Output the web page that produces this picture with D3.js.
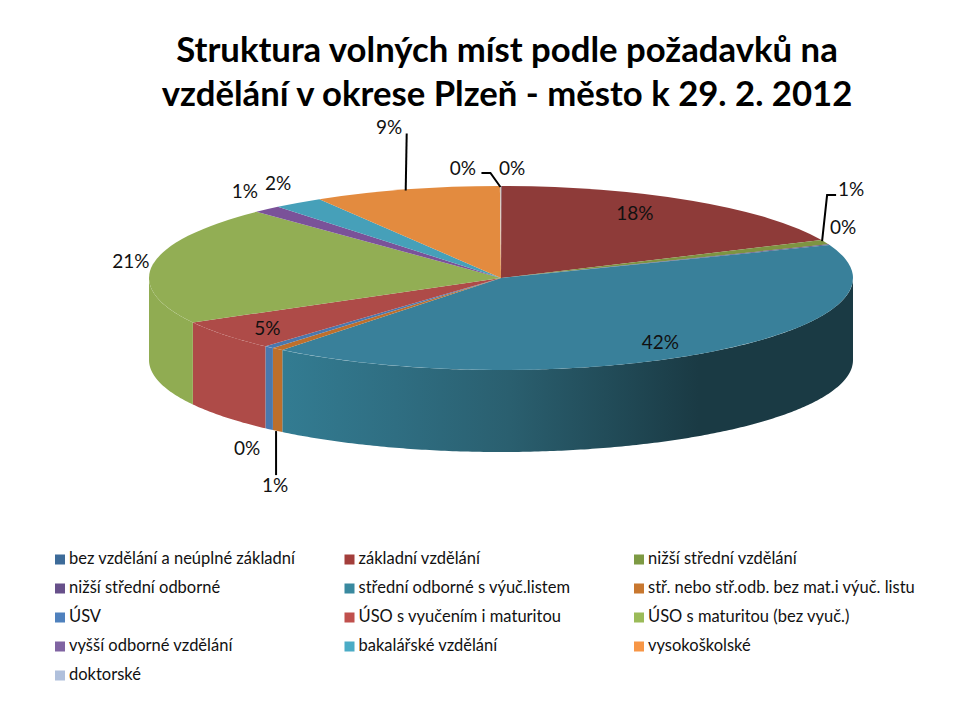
<!DOCTYPE html>
<html>
<head>
<meta charset="utf-8">
<script src="https://cdn.jsdelivr.net/npm/d3@7"></script>
<style>
  html, body { margin: 0; background: #fff; }
  svg { display: block; }
  text { font-family: Lato, "Noto Sans", sans-serif; fill: #111; }
  .title { font-size: 34.7px; font-weight: 700; text-anchor: middle; fill: #000; }
  .pct { font-size: 19px; text-anchor: middle; dominant-baseline: central; }
  .legend-label { font-size: 16.5px; }
</style>
</head>
<body>
<svg width="980" height="712"></svg>
<script>
  const titleLines = [
    'Struktura volných míst podle požadavků na',
    'vzdělání v okrese Plzeň - město k 29. 2. 2012'
  ];

  const categories = [
    'bez vzdělání a neúplné základní', 'základní vzdělání', 'nižší střední vzdělání',
    'nižší střední odborné', 'střední odborné s výuč.listem', 'stř. nebo stř.odb. bez mat.i výuč. listu',
    'ÚSV', 'ÚSO s vyučením i maturitou', 'ÚSO s maturitou (bez vyuč.)',
    'vyšší odborné vzdělání', 'bakalářské vzdělání', 'vysokoškolské',
    'doktorské'
  ];
  const shares = [0.02, 18.2, 0.8, 0.15, 41.5, 0.55, 0.45, 5.3, 20.8, 1.3, 2.3, 8.58, 0.05];

  const legendColors = ['#3d6b99', '#a33e3b', '#7d9a43', '#67508a', '#39899f', '#c8772f', '#4f81bd',
    '#c0504d', '#9bbb59', '#8064a2', '#4bacc6', '#f79646', '#b0c0dc'];
  const topColors = ['#3d6b99', '#8e3b39', '#7e9442', '#5f4a7d', '#39809a', '#bd6f2c', '#4a78ae',
    '#ae4b48', '#92ae54', '#7a5299', '#46a0b9', '#e38b3f', '#d8c8c0'];
  const wallColors = ['#3d6b99', '#8e3b39', '#7e9442', '#5f4a7d', 'url(#tealWall)', '#bd6f2c', '#4a78ae',
    '#ae4b48', '#90ac52', '#7a5299', '#46a0b9', '#e38b3f', '#d8c8c0'];

  // label and leader offsets from the middle of each slice's rim
  const labelOffsets = [[11, -19], [-57, 12], [26, -54], [14, -18], [-49, -11], [-2.5, 135], [-22, 100],
    [42, -8], [-22, -4], [-22, -19], [-20, -20], [-17, -63], [-37.5, -19]];
  const leaders = {
    2: [[-3, -1], [2, -47], [11, -47]],
    5: [[-1.5, 82], [-1.5, 126]],
    11: [[-0.5, 1], [0.5, -56]],
    12: [[0, 1], [-10, -13], [-19, -13]]
  };

  const svg = d3.select('svg');
  const cx = 501, cy = 278, rx = 352, ry = 92, depth = 82;

  svg.selectAll('text.title').data(titleLines)
    .enter().append('text')
      .attr('class', 'title')
      .attr('x', 507)
      .attr('y', (d, i) => 62 + i * 44)
      .text(d => d);

  const defs = svg.append('defs');
  const tealGrad = defs.append('linearGradient')
    .attr('id', 'tealWall')
    .attr('gradientUnits', 'userSpaceOnUse')
    .attr('x1', 281).attr('x2', 853).attr('y1', 0).attr('y2', 0);
  [[0, '#337c92'], [0.2, '#2f6e82'], [0.4, '#2a5f6f'], [0.73, '#1a3a44'], [1, '#1a3a44']].forEach(s => {
    tealGrad.append('stop').attr('offset', s[0]).attr('stop-color', s[1]);
  });

  const pie = d3.pie().sort(null).value(d => d);
  const arcsData = pie(shares);

  const rim = t => [cx + rx * Math.sin(t), cy - ry * Math.cos(t)];

  // side walls, only the front half of the ellipse shows
  const wall = d3.area()
    .x(t => rim(t)[0])
    .y0(t => rim(t)[1] + depth)
    .y1(t => rim(t)[1]);

  arcsData.forEach((a, i) => {
    const start = Math.max(a.startAngle, Math.PI / 2);
    const end = Math.min(a.endAngle, Math.PI * 1.5);
    if (end <= start) return;
    const steps = Math.max(2, Math.ceil((end - start) * 90));
    const angles = d3.range(steps + 1).map(k => start + (end - start) * k / steps);
    svg.append('path')
      .attr('d', wall(angles))
      .attr('fill', wallColors[i]);
  });

  // top face is a circular pie squashed to an ellipse
  const arc = d3.arc().innerRadius(0).outerRadius(rx);
  svg.append('g')
    .attr('transform', `translate(${cx},${cy}) scale(1,${ry / rx})`)
    .selectAll('path').data(arcsData)
    .enter().append('path')
      .attr('d', arc)
      .attr('fill', (d, i) => topColors[i]);

  const midRim = a => rim((a.startAngle + a.endAngle) / 2);
  const line = d3.line();

  Object.keys(leaders).forEach(i => {
    const m = midRim(arcsData[i]);
    svg.append('path')
      .attr('d', line(leaders[i].map(p => [m[0] + p[0], m[1] + p[1]])))
      .attr('fill', 'none')
      .attr('stroke', '#000')
      .attr('stroke-width', 2);
  });

  const total = d3.sum(shares);
  svg.selectAll('text.pct').data(arcsData)
    .enter().append('text')
      .attr('class', 'pct')
      .attr('x', (d, i) => midRim(d)[0] + labelOffsets[i][0])
      .attr('y', (d, i) => midRim(d)[1] + labelOffsets[i][1])
      .text(d => d3.format('.0%')(d.value / total));

  // legend, 3 columns filled row by row
  const legendX = d3.scalePoint().domain([0, 1, 2]).range([55, 634]);
  const legendY = d3.scalePoint().domain([0, 1, 2, 3, 4]).range([559.5, 675.5]);
  const legend = svg.selectAll('g.legend').data(categories)
    .enter().append('g')
      .attr('class', 'legend')
      .attr('transform', (d, i) => `translate(${legendX(i % 3)},${legendY(Math.floor(i / 3))})`);
  legend.append('rect')
    .attr('y', -5).attr('width', 10).attr('height', 10)
    .attr('fill', (d, i) => legendColors[i]);
  legend.append('text')
    .attr('class', 'legend-label')
    .attr('x', 14)
    .attr('y', 4.5)
    .text(d => d);
</script>
</body>
</html>
